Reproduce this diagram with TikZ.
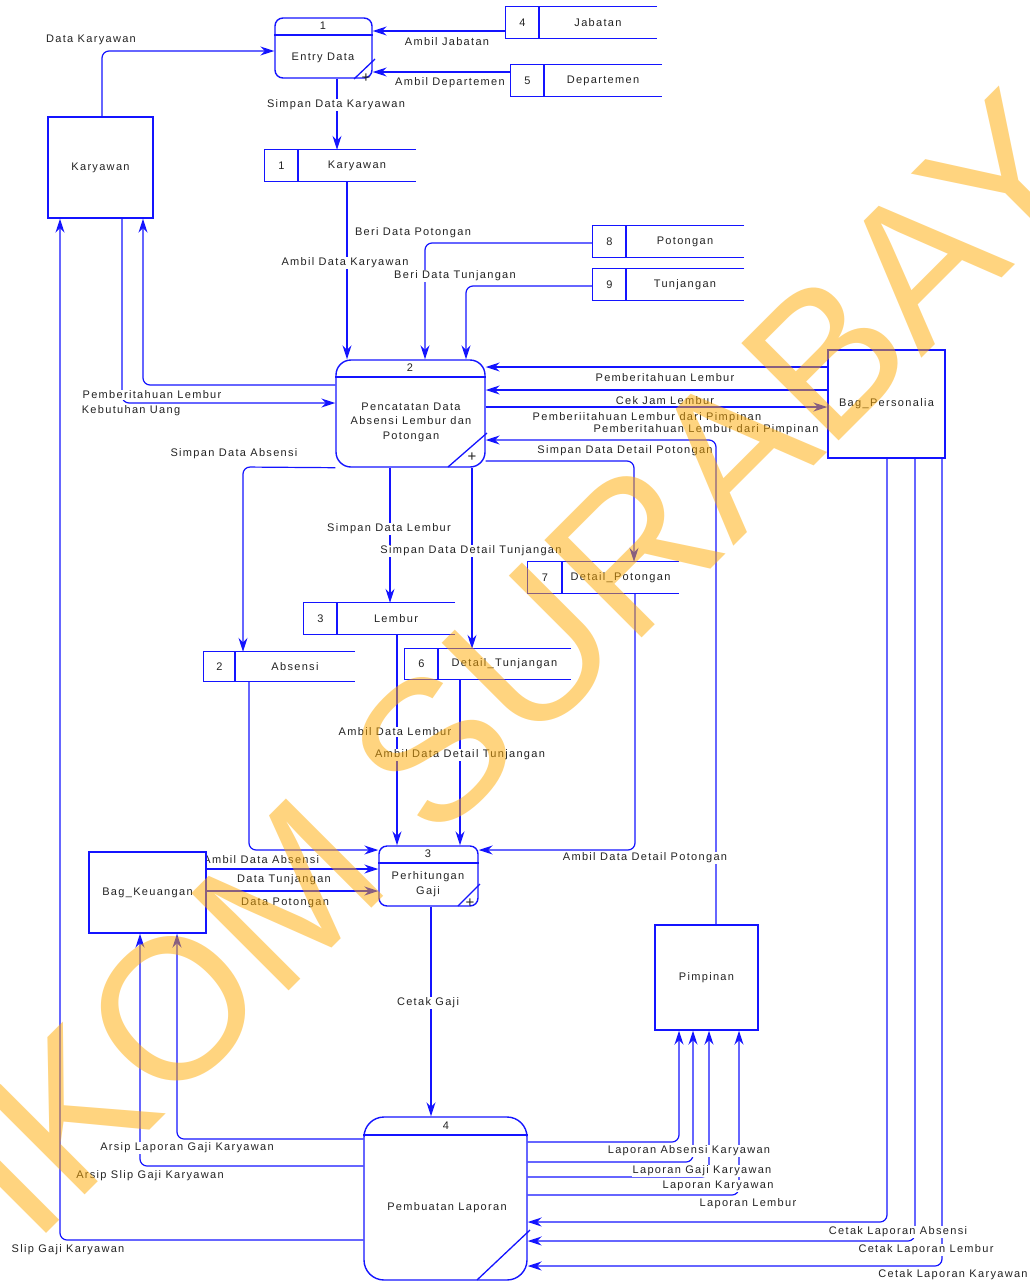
\documentclass[tikz,border=0pt]{standalone}
\usepackage{fontspec}
\setmainfont{Liberation Sans}[LetterSpace=12]
\newfontfamily\wmfont{Liberation Sans}
\usetikzlibrary{arrows.meta}
\definecolor{dfdblue}{RGB}{20,20,255}
\definecolor{wmorange}{RGB}{255,170,0}
\definecolor{txtgray}{RGB}{35,35,35}
% name, x1, y1, x2, y2, divider x, number, label
\newcommand\dfdstore[8]{%
  \node[stbox,minimum width={(#4-#2)*1pt},minimum height={(#5-#3)*1pt}] (#1) at ({(#2+#4)/2},{(#3+#5)/2}) {};
  \draw[dfdblue,line width=1.3pt] (#1.north east) -- (#1.north west) -- (#1.south west) -- (#1.south east);
  \draw[dfdblue,line width=1.3pt] (#1.north west -| #6,0) -- (#1.south west -| #6,0);
  \node[txt] (#1n) at ({(#2+#6)/2},{(#3+#5)/2}) {#7};
  \node[txt] (#1l) at ({(#6+#4)/2},{(#3+#5)/2}) {#8};
}
\begin{document}
\begin{tikzpicture}[x=1pt,y=-1pt,
  dflow/.style={draw=dfdblue,line width=1.2pt,rounded corners=7pt,-{Stealth[length=14pt,width=9pt]}},
  lbl/.style={font=\fontsize{11}{13}\selectfont,text=txtgray,fill=white,inner sep=0.6pt},
  txt/.style={font=\fontsize{11}{14.5}\selectfont,text=txtgray,inner sep=0pt,align=center},
  plus/.style={font=\fontsize{15}{15}\selectfont,text=txtgray,inner sep=0pt},
  ent/.style={draw=dfdblue,line width=1.4pt,fill=white,inner sep=0pt,font=\fontsize{11}{13}\selectfont,text=txtgray},
  dproc/.style={draw=dfdblue,line width=1.4pt,fill=white,inner sep=0pt},
  hline/.style={draw=dfdblue,line width=1.3pt},
  stbox/.style={inner sep=0pt},
  wm/.style={font=\wmfont\fontsize{200}{200}\selectfont,text=wmorange,text opacity=0.5,inner sep=0pt},
]
\fill[white] (0,0) rectangle (1030,1283);
\useasboundingbox (0,0) rectangle (1030,1283);

% label partly hidden behind Bag_Keuangan
\node[lbl,anchor=east] (lAbs) at (320,860) {Ambil Data Absensi};

% ---------- external entities ----------
\node[ent,minimum width=105pt,minimum height=101pt] (kar) at (100.5,167.5) {Karyawan};
\node[ent,minimum width=117pt,minimum height=81pt] (keu) at (147.5,892.5) {Bag\_Keuangan};
\node[ent,minimum width=117pt,minimum height=108pt] (pers) at (886.5,404) {Bag\_Personalia};
\node[ent,minimum width=103pt,minimum height=105pt] (pimp) at (706.5,977.5) {Pimpinan};

% ---------- processes ----------
\node[dproc,rounded corners=8pt,minimum width=97pt,minimum height=60pt] (p1) at (323.5,48) {};
\draw[hline] (p1.west |- 0,35) -- (p1.east |- 0,35);
\node[txt] (p1n) at (323,26) {1};
\node[txt] (p1t) at (323,58) {Entry Data};
\draw[hline] (354,79) -- (375,59);
\node[plus] (p1p) at (366,78) {+};

\node[dproc,rounded corners=15pt,minimum width=149pt,minimum height=107pt] (p2) at (410.5,413.5) {};
\draw[hline] (p2.west |- 0,377) -- (p2.east |- 0,377);
\node[txt] (p2n) at (410,368) {2};
\node[txt] (p2t) at (411,422) {Pencatatan Data\\Absensi Lembur dan\\Potongan};
\draw[hline] (448,467) -- (487,433);
\node[plus] (p2p) at (472,457) {+};

\node[dproc,rounded corners=8pt,minimum width=99pt,minimum height=60pt] (p3) at (428.5,876) {};
\draw[hline] (p3.west |- 0,863) -- (p3.east |- 0,863);
\node[txt] (p3n) at (428,854) {3};
\node[txt] (p3t) at (428,884) {Perhitungan\\Gaji};
\draw[hline] (458,906) -- (480,884);
\node[plus] (p3p) at (470,903) {+};

\node[dproc,rounded corners=20pt,minimum width=163pt,minimum height=163pt] (p4) at (445.5,1198.5) {};
\draw[hline] (p4.west |- 0,1135) -- (p4.east |- 0,1135);
\node[txt] (p4n) at (446,1126) {4};
\node[txt] (p4t) at (447,1208) {Pembuatan Laporan};
\draw[hline] (477,1280) -- (530,1230);

% ---------- data stores ----------
\dfdstore{s4}{506}{7}{657}{38}{539}{4}{Jabatan}
\dfdstore{s5}{511}{65}{662}{96}{544}{5}{Departemen}
\dfdstore{s1}{265}{150}{416}{181}{298}{1}{Karyawan}
\dfdstore{s8}{593}{226}{744}{257}{626}{8}{Potongan}
\dfdstore{s9}{593}{269}{744}{300}{626}{9}{Tunjangan}
\dfdstore{s7}{528}{562}{679}{593}{562}{7}{Detail\_Potongan}
\dfdstore{s3}{304}{603}{455}{634}{337}{3}{Lembur}
\dfdstore{s6}{405}{649}{571}{679}{438}{6}{Detail\_Tunjangan}
\dfdstore{s2}{204}{652}{355}{681}{235}{2}{Absensi}

% ---------- data flows ----------
\draw[dflow] (kar.north -| 102,0) -- (102,51) -- (p1.west |- 0,51);
\draw[dflow] (s4.west |- 0,31) -- (p1.east |- 0,31);
\draw[dflow] (s5.west |- 0,72) -- (p1.east |- 0,72);
\draw[dflow] (p1.south -| 337,0) -- (s1.north -| 337,0);
\draw[dflow] (s1.south -| 347,0) -- (p2.north -| 347,0);
\draw[dflow] (s8.west |- 0,243) -- (425,243) -- (p2.north -| 425,0);
\draw[dflow] (s9.west |- 0,286) -- (466,286) -- (p2.north -| 466,0);
\draw[dflow] (p2.west |- 0,385) -- (143,385) -- (kar.south -| 143,0);
\draw[dflow] (kar.south -| 122,0) -- (122,403) -- (p2.west |- 0,403);
\draw[dflow] (pers.west |- 0,367) -- (p2.east |- 0,367);
\draw[dflow] (pers.west |- 0,390) -- (p2.east |- 0,390);
\draw[dflow] (p2.east |- 0,407) -- (pers.west |- 0,407);
\draw[dflow] (pimp.north -| 716,0) -- (716,440) -- (p2.east |- 0,440);
\draw[dflow] (p2.east |- 0,461) -- (634,461) -- (s7.north -| 634,0);
\draw[dflow] (p2.south west) -- (243,467) -- (s2.north -| 243,0);
\draw[dflow] (p2.south -| 390,0) -- (s3.north -| 390,0);
\draw[dflow] (p2.south -| 472,0) -- (s6.north -| 472,0);
\draw[dflow] (s2.south -| 249,0) -- (249,850) -- (p3.west |- 0,850);
\draw[dflow] (s3.south -| 397,0) -- (p3.north -| 397,0);
\draw[dflow] (s6.south -| 460,0) -- (p3.north -| 460,0);
\draw[dflow] (s7.south -| 635,0) -- (635,850) -- (p3.east |- 0,850);
\draw[dflow] (keu.east |- 0,869) -- (p3.west |- 0,869);
\draw[dflow] (keu.east |- 0,891) -- (p3.west |- 0,891);
\draw[dflow] (p3.south -| 431,0) -- (p4.north -| 431,0);
\draw[dflow] (p4.west |- 0,1139) -- (177,1139) -- (keu.south -| 177,0);
\draw[dflow] (p4.west |- 0,1166) -- (140,1166) -- (keu.south -| 140,0);
\draw[dflow] (p4.west |- 0,1240) -- (60,1240) -- (kar.south -| 60,0);
\draw[dflow] (p4.east |- 0,1142) -- (679,1142) -- (pimp.south -| 679,0);
\draw[dflow] (p4.east |- 0,1162) -- (693,1162) -- (pimp.south -| 693,0);
\draw[dflow] (p4.east |- 0,1177) -- (709,1177) -- (pimp.south -| 709,0);
\draw[dflow] (p4.east |- 0,1195) -- (739,1195) -- (pimp.south -| 739,0);
\draw[dflow] (pers.south -| 887,0) -- (887,1222) -- (p4.east |- 0,1222);
\draw[dflow] (pers.south -| 915,0) -- (915,1241) -- (p4.east |- 0,1241);
\draw[dflow] (pers.south -| 942,0) -- (942,1266) -- (p4.east |- 0,1266);

% ---------- labels ----------
\node[lbl] (l01) at (91,40) {Data Karyawan};
\node[lbl] (l02) at (447,42) {Ambil Jabatan};
\node[lbl] (l03) at (450,83) {Ambil Departemen};
\node[lbl] (l04) at (336,105) {Simpan Data Karyawan};
\node[lbl] (l05) at (345,263) {Ambil Data Karyawan};
\node[lbl] (l06) at (413,233) {Beri Data Potongan};
\node[lbl] (l07) at (455,276) {Beri Data Tunjangan};
\node[lbl] (l08) at (152,395) {Pemberitahuan Lembur};
\node[lbl] (l09) at (131,411) {Kebutuhan Uang};
\node[lbl] (l10) at (234,454) {Simpan Data Absensi};
\node[lbl] (l11) at (665,378) {Pemberitahuan Lembur};
\node[lbl] (l12) at (665,401) {Cek Jam Lembur};
\node[lbl] (l13) at (647,418) {Pemberiitahuan Lembur dari Pimpinan};
\node[lbl] (l14) at (706,430) {Pemberitahuan Lembur dari Pimpinan};
\node[lbl] (l15) at (625,451) {Simpan Data Detail Potongan};
\node[lbl] (l16) at (389,529) {Simpan Data Lembur};
\node[lbl] (l17) at (471,551) {Simpan Data Detail Tunjangan};
\node[lbl] (l18) at (395,732) {Ambil Data Lembur};
\node[lbl] (l19) at (460,755) {Ambil Data Detail Tunjangan};
\node[lbl] (l20) at (284,880) {Data Tunjangan};
\node[lbl] (l21) at (285,903) {Data Potongan};
\node[lbl] (l22) at (645,858) {Ambil Data Detail Potongan};
\node[lbl] (l23) at (428,1003) {Cetak Gaji};
\node[lbl] (l24) at (187,1148) {Arsip Laporan Gaji Karyawan};
\node[lbl] (l25) at (150,1176) {Arsip Slip Gaji Karyawan};
\node[lbl] (l26) at (68,1250) {Slip Gaji Karyawan};
\node[lbl] (l27) at (689,1151) {Laporan Absensi Karyawan};
\node[lbl] (l28) at (702,1171) {Laporan Gaji Karyawan};
\node[lbl] (l29) at (718,1186) {Laporan Karyawan};
\node[lbl] (l30) at (748,1204) {Laporan Lembur};
\node[lbl] (l31) at (898,1232) {Cetak Laporan Absensi};
\node[lbl] (l32) at (926,1250) {Cetak Laporan Lembur};
\node[lbl] (l33) at (953,1275) {Cetak Laporan Karyawan};

% ---------- watermark ----------
\node[wm,anchor=base west,rotate=45] (wmk) at (-147,1427) {STIKOM SURABAYA};
\end{tikzpicture}
\end{document}
